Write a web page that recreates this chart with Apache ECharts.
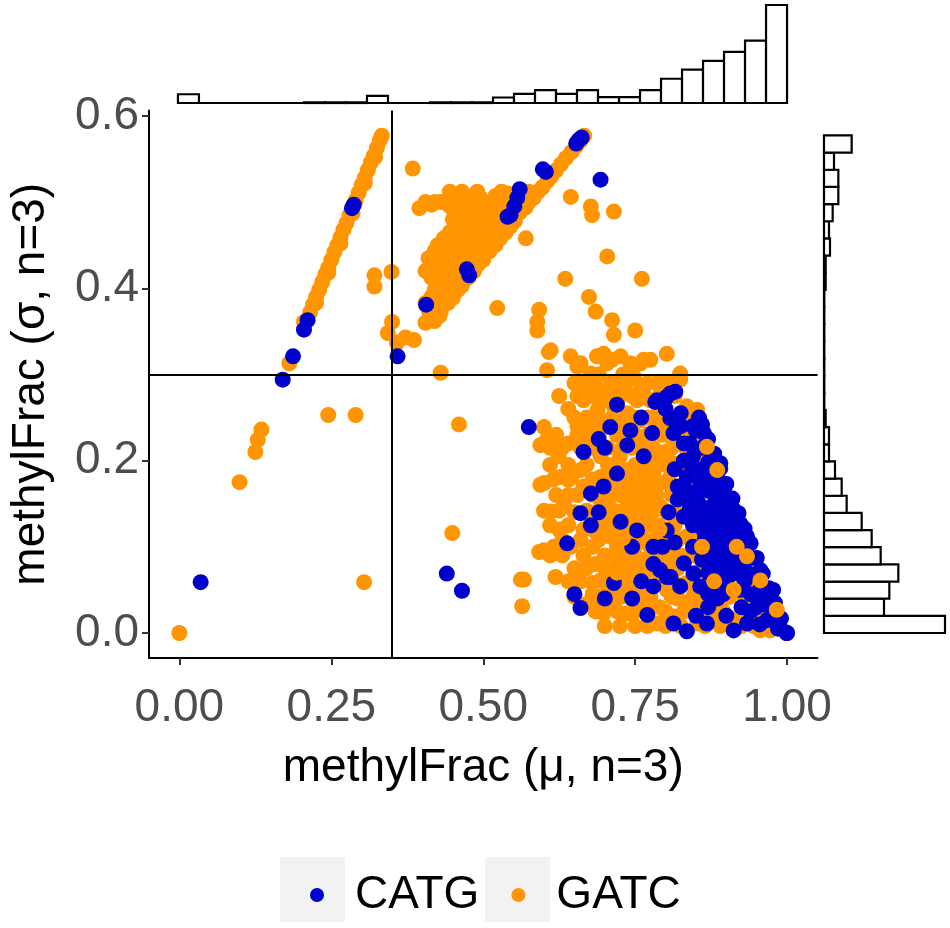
<!DOCTYPE html>
<html>
<head>
<meta charset="utf-8">
<script src="https://cdn.jsdelivr.net/npm/echarts@6/dist/echarts.min.js"></script>
<style>html,body{margin:0;padding:0;background:#fff;}#c{width:950px;height:928px;}</style>
</head>
<body>
<div id="c"></div>
<script>
// ---- data ----
var muTicks = [0, 0.25, 0.5, 0.75, 1];
var sigmaTicks = [0, 0.2, 0.4, 0.6];
var vLineMu = 0.35;
var hLineSigma = 0.3;

// marginal histogram counts (29 bins each)
var muHist = [27,0,0,0,0,0,2,2,2,22,0,0,2,2,2,17,28,40,28,40,18,18,40,75,103,130,158,193,303];
var sigmaHist = [363,180,196,223,170,143,113,68,53,33,15,15,5,1,1,1,1,1,1,1,5,5,18,15,26,43,43,30,83];
var muRange = [0, 1];
var sigmaRange = [0, 0.57735];

// GATC points [mu, sigma]
var gatcPoints = [
 [0.215,0.372],[0.220,0.381],[0.225,0.390],[0.230,0.398],[0.235,0.407],[0.240,0.416],[0.245,0.424],[0.250,0.433],[0.255,0.442],[0.260,0.450],[0.265,0.459],[0.270,0.468],[0.275,0.476],[0.280,0.485],[0.285,0.494],[0.290,0.502],[0.295,0.511],[0.300,0.520],[0.305,0.528],[0.310,0.537],[0.315,0.546],[0.320,0.554],[0.325,0.563],[0.330,0.572],[0.333,0.577],
 [0.225,0.383],[0.245,0.418],[0.265,0.452],[0.285,0.487],[0.305,0.522],[0.322,0.552],[0.181,0.313],[0.205,0.361],
 [0.384,0.539],[0.321,0.415],[0.321,0.402],[0.349,0.419],[0.245,0.253],[0.290,0.253],[0.135,0.236],[0.129,0.224],[0.125,0.210],[0.099,0.175],[0.000,0.000],[0.304,0.059],[0.430,0.302],[0.460,0.242],[0.449,0.116],[0.562,0.062],[0.567,0.062],[0.564,0.031],[0.594,0.218],[0.594,0.172],[0.592,0.094],
 [0.343,0.348],[0.358,0.337],[0.372,0.343],[0.386,0.340],[0.350,0.361],
 [0.405,0.360],[0.420,0.362],[0.410,0.375],[0.430,0.373],[0.415,0.390],[0.435,0.390],[0.450,0.389],[0.425,0.405],[0.445,0.405],[0.465,0.403],
 [0.405,0.420],[0.425,0.420],[0.445,0.420],[0.465,0.420],[0.485,0.420],[0.410,0.435],[0.430,0.435],[0.450,0.435],[0.470,0.435],[0.490,0.435],[0.500,0.433],
 [0.425,0.450],[0.445,0.450],[0.465,0.450],[0.485,0.450],[0.505,0.450],[0.520,0.450],[0.445,0.465],[0.465,0.465],[0.485,0.465],[0.505,0.465],[0.525,0.465],[0.537,0.465],
 [0.450,0.480],[0.470,0.480],[0.490,0.480],[0.510,0.480],[0.530,0.480],[0.552,0.478],
 [0.395,0.493],[0.415,0.497],[0.445,0.495],[0.465,0.495],[0.485,0.495],[0.510,0.495],[0.530,0.495],[0.550,0.495],[0.570,0.494],
 [0.430,0.500],[0.455,0.508],[0.475,0.505],[0.495,0.505],[0.520,0.507],[0.540,0.510],[0.560,0.508],[0.583,0.505],
 [0.412,0.368],[0.428,0.368],[0.405,0.383],[0.425,0.383],[0.442,0.383],[0.420,0.398],[0.440,0.398],[0.458,0.398],
 [0.415,0.412],[0.435,0.412],[0.455,0.412],[0.475,0.412],[0.415,0.428],[0.435,0.428],[0.455,0.428],[0.475,0.428],[0.492,0.428],
 [0.420,0.443],[0.440,0.443],[0.460,0.443],[0.480,0.443],[0.500,0.443],[0.510,0.443],[0.435,0.458],[0.455,0.458],[0.475,0.458],[0.495,0.458],[0.515,0.458],[0.528,0.458],
 [0.455,0.472],[0.475,0.472],[0.495,0.472],[0.515,0.472],[0.535,0.472],[0.545,0.472],[0.455,0.488],[0.475,0.488],[0.500,0.488],[0.520,0.488],[0.540,0.488],[0.560,0.488],
 [0.405,0.500],[0.420,0.500],[0.565,0.500],[0.575,0.500],[0.445,0.512],[0.465,0.512],[0.490,0.512],[0.530,0.512],[0.575,0.512],[0.590,0.512],
 [0.597,0.517],[0.605,0.524],[0.612,0.530],[0.620,0.537],[0.628,0.544],[0.636,0.551],[0.645,0.558],[0.653,0.565],[0.660,0.571],[0.666,0.577],
 [0.644,0.506],[0.677,0.495],[0.679,0.485],[0.715,0.489],[0.570,0.458],[0.704,0.437],[0.635,0.411],[0.761,0.411],[0.523,0.377],[0.592,0.375],[0.589,0.361],[0.589,0.351],[0.674,0.390],[0.685,0.373],[0.712,0.363],[0.715,0.346],[0.750,0.351],[0.611,0.328],[0.605,0.305],
 [0.644,0.321],[0.655,0.309],[0.687,0.321],[0.704,0.313],[0.726,0.321],[0.742,0.313],[0.764,0.317],[0.802,0.324],[0.824,0.301],[0.808,0.290],
 [0.608,0.326],[0.660,0.313],[0.698,0.324],[0.712,0.317],[0.759,0.313],[0.775,0.317],[0.677,0.301],[0.748,0.297],[0.824,0.294],
 [0.671,0.286],[0.693,0.282],[0.720,0.286],[0.753,0.270],[0.665,0.270],[0.688,0.259],[0.715,0.263],[0.737,0.255],[0.835,0.263],[0.852,0.259],
 [0.600,0.239],[0.605,0.224],[0.677,0.239],[0.674,0.224],[0.759,0.247],[0.786,0.235],[0.835,0.239],[0.857,0.224],
 [0.624,0.205],[0.627,0.181],[0.600,0.174],[0.660,0.189],[0.665,0.170],[0.693,0.205],[0.693,0.181],[0.737,0.189],[0.786,0.201],[0.813,0.197],[0.835,0.212],[0.857,0.201],[0.879,0.189],[0.791,0.174],[0.748,0.170],[0.720,0.166],[0.770,0.166],
 [0.611,0.141],[0.633,0.148],[0.600,0.096],[0.616,0.100],[0.644,0.100],[0.693,0.154],[0.682,0.119],[0.709,0.135],[0.709,0.112],[0.737,0.147],[0.759,0.150],[0.770,0.135],[0.791,0.147],[0.786,0.112],[0.813,0.135],[0.835,0.112],[0.857,0.100],[0.720,0.100],[0.753,0.104],
 [0.619,0.065],[0.693,0.061],[0.704,0.046],[0.742,0.081],[0.748,0.058],[0.775,0.073],[0.813,0.081],[0.835,0.058],[0.857,0.073],[0.879,0.089],[0.917,0.096],[0.934,0.085],[0.950,0.061],[0.901,0.050],[0.802,0.050],[0.759,0.042],[0.726,0.042],
 [0.671,0.034],[0.698,0.023],[0.737,0.023],[0.786,0.011],[0.813,0.019],[0.852,0.011],[0.879,0.023],[0.912,0.011],[0.945,0.019],[0.972,0.003],[0.977,0.027],[0.956,0.003],
 [0.705,0.195],[0.725,0.205],[0.745,0.215],[0.765,0.225],[0.705,0.150],[0.725,0.160],[0.745,0.180],[0.765,0.190],[0.780,0.185],[0.700,0.130],[0.725,0.140],[0.745,0.130],[0.760,0.120],[0.775,0.100],
 [0.700,0.090],[0.735,0.090],[0.765,0.085],[0.790,0.090],[0.685,0.080],[0.715,0.075],[0.745,0.070],[0.680,0.100],[0.665,0.120],[0.650,0.140],[0.655,0.160],[0.645,0.180],[0.640,0.220],[0.655,0.240],
 [0.700,0.240],[0.725,0.245],[0.700,0.270],[0.730,0.300],[0.690,0.300],[0.650,0.290],[0.640,0.260],[0.625,0.275],[0.625,0.120],[0.640,0.060],[0.660,0.060],[0.680,0.045],[0.715,0.030],[0.755,0.030],
 [0.790,0.030],[0.770,0.055],[0.820,0.040],[0.840,0.030],[0.860,0.040],[0.890,0.030],[0.900,0.075],[0.880,0.120],[0.865,0.145],[0.840,0.180],[0.810,0.170],[0.825,0.150],[0.800,0.210],[0.780,0.250],
 [0.805,0.245],[0.775,0.270],[0.795,0.290],[0.760,0.285],
 [0.660,0.290],[0.680,0.290],[0.710,0.290],[0.735,0.290],[0.770,0.290],[0.785,0.290],
 [0.655,0.275],[0.680,0.275],[0.705,0.275],[0.725,0.275],[0.745,0.275],[0.765,0.275],[0.790,0.275],[0.815,0.275],
 [0.650,0.250],[0.670,0.250],[0.690,0.250],[0.712,0.250],[0.748,0.250],[0.770,0.250],[0.795,0.250],[0.820,0.250],[0.840,0.250],
 [0.620,0.230],[0.655,0.230],[0.690,0.230],[0.720,0.230],[0.750,0.230],[0.770,0.230],[0.795,0.230],[0.825,0.230],[0.845,0.230],
 [0.610,0.215],[0.630,0.215],[0.660,0.215],[0.680,0.215],[0.705,0.215],[0.730,0.215],[0.755,0.215],[0.780,0.215],[0.810,0.215],
 [0.610,0.195],[0.640,0.195],[0.670,0.195],[0.715,0.195],[0.750,0.195],[0.775,0.195],[0.800,0.195],[0.825,0.195],
 [0.615,0.178],[0.640,0.178],[0.680,0.178],[0.705,0.178],[0.730,0.178],[0.760,0.178],[0.780,0.178],[0.805,0.178],
 [0.620,0.160],[0.640,0.160],[0.680,0.160],[0.710,0.160],[0.735,0.160],[0.760,0.160],[0.785,0.160],[0.810,0.160],
 [0.600,0.142],[0.625,0.142],[0.670,0.142],[0.690,0.142],[0.715,0.142],[0.750,0.142],[0.780,0.142],[0.800,0.142],
 [0.610,0.125],[0.640,0.125],[0.695,0.125],[0.720,0.125],[0.740,0.125],[0.770,0.125],[0.790,0.125],[0.815,0.125],
 [0.630,0.108],[0.660,0.108],[0.690,0.108],[0.735,0.108],[0.765,0.108],[0.800,0.108],[0.820,0.108],[0.845,0.108],
 [0.610,0.090],[0.630,0.090],[0.665,0.090],[0.720,0.090],[0.750,0.090],[0.780,0.090],[0.805,0.090],[0.825,0.090],[0.845,0.090],[0.870,0.090],[0.890,0.090],
 [0.650,0.075],[0.670,0.075],[0.700,0.075],[0.730,0.075],[0.760,0.075],[0.790,0.075],[0.820,0.075],[0.880,0.075],
 [0.680,0.058],[0.705,0.058],[0.735,0.058],[0.760,0.058],[0.790,0.058],[0.815,0.058],[0.870,0.058],[0.895,0.058],
 [0.650,0.042],[0.690,0.042],[0.710,0.042],[0.740,0.042],[0.775,0.042],[0.810,0.042],[0.845,0.042],[0.875,0.042],[0.905,0.042],[0.930,0.042],
 [0.685,0.025],[0.720,0.025],[0.750,0.025],[0.770,0.025],[0.800,0.025],[0.830,0.025],[0.860,0.025],[0.895,0.025],[0.925,0.025],[0.960,0.025],
 [0.700,0.008],[0.725,0.008],[0.750,0.008],[0.770,0.008],[0.800,0.008],[0.825,0.008],[0.865,0.008],[0.890,0.008],[0.925,0.008],[0.945,0.008]
];

// CATG points [mu, sigma]
var catgPoints = [
 [0.170,0.294],[0.187,0.321],[0.205,0.352],[0.211,0.363],[0.284,0.493],[0.287,0.497],[0.035,0.059],[0.359,0.321],[0.575,0.239],[0.440,0.069],[0.465,0.049],
 [0.406,0.381],[0.477,0.415],[0.473,0.422],[0.545,0.485],[0.551,0.495],[0.556,0.505],[0.560,0.515],[0.540,0.483],[0.603,0.535],[0.598,0.538],[0.657,0.572],[0.662,0.575],[0.653,0.568],[0.693,0.526],
 [0.783,0.268],[0.802,0.274],[0.816,0.280],[0.709,0.239],[0.742,0.235],[0.778,0.232],[0.813,0.232],[0.808,0.249],[0.863,0.232],[0.737,0.218],[0.764,0.205],
 [0.720,0.185],[0.835,0.181],[0.857,0.174],[0.885,0.181],[0.896,0.166],[0.698,0.170],[0.677,0.162],[0.890,0.197],
 [0.660,0.139],[0.677,0.125],[0.638,0.104],[0.726,0.129],[0.753,0.119],[0.780,0.100],[0.802,0.119],[0.835,0.158],[0.846,0.143],[0.868,0.143],[0.890,0.150],[0.912,0.143],[0.923,0.127],[0.863,0.119],[0.885,0.112],[0.906,0.100],[0.934,0.112],
 [0.715,0.058],[0.780,0.054],[0.802,0.065],[0.830,0.081],[0.857,0.054],[0.879,0.054],[0.912,0.069],[0.923,0.050],[0.956,0.073],[0.961,0.042],[0.977,0.050],
 [0.660,0.029],[0.770,0.021],[0.813,0.011],[0.835,0.002],[0.868,0.011],[0.912,0.003],[0.934,0.011],[0.967,0.015],[0.999,0.000],[0.988,0.007],
 [0.855,0.250],[0.860,0.242],[0.870,0.225],[0.880,0.208],[0.890,0.191],[0.900,0.173],[0.910,0.156],[0.920,0.139],[0.930,0.121],[0.940,0.104],[0.950,0.087],[0.960,0.069],[0.970,0.052],[0.980,0.035],[0.990,0.017],[1.000,0.000],
 [0.850,0.235],[0.860,0.215],[0.870,0.198],[0.878,0.178],[0.890,0.165],[0.898,0.148],[0.905,0.130],[0.915,0.115],[0.925,0.098],[0.935,0.085],[0.945,0.068],[0.955,0.050],[0.965,0.033],[0.975,0.018],[0.985,0.005],
 [0.950,0.030],[0.940,0.045],[0.930,0.060],[0.925,0.080],[0.915,0.090],[0.900,0.120],[0.895,0.135],[0.880,0.150],[0.870,0.165],[0.860,0.190],[0.845,0.205],[0.830,0.220],
 [0.820,0.170],[0.835,0.165],[0.845,0.125],[0.830,0.135],[0.850,0.160],[0.791,0.073],[0.808,0.065],[0.824,0.054],[0.846,0.069],[0.786,0.270],[0.808,0.278],
 [0.815,0.190],[0.830,0.200],[0.845,0.190],[0.820,0.155],[0.840,0.145],[0.855,0.130],[0.870,0.130],[0.875,0.100],[0.860,0.085],[0.845,0.100],[0.890,0.085],[0.900,0.060],[0.885,0.040],
 [0.870,0.030],[0.850,0.020],[0.900,0.020],[0.940,0.025],[0.955,0.010],[0.925,0.030],[0.795,0.100],[0.805,0.140],[0.815,0.105],[0.760,0.060],[0.780,0.080],[0.745,0.040],[0.700,0.215],
 [0.690,0.225],[0.665,0.210],[0.720,0.265],[0.800,0.260],[0.825,0.255],[0.760,0.250],[0.745,0.100],[0.870,0.070],[0.890,0.110],[0.905,0.080],[0.690,0.140],[0.650,0.045],[0.700,0.040],
 [0.865,0.110],[0.880,0.095],[0.895,0.095],[0.905,0.110],[0.890,0.070],[0.875,0.080],[0.915,0.070],[0.825,0.240],[0.845,0.240],[0.840,0.220],[0.865,0.185],[0.875,0.140],
 [0.855,0.150],[0.915,0.125],[0.905,0.150],[0.885,0.125],[0.870,0.045],[0.895,0.045],[0.930,0.070]
];

// GATC points drawn over CATG
var gatcTopPoints = [
 [0.917,0.100],[0.934,0.089],[0.956,0.061],[0.983,0.027],[0.885,0.189],[0.868,0.216],[0.912,0.050],[0.760,0.140],[0.740,0.160],[0.790,0.120],
 [0.730,0.110],[0.770,0.150],[0.720,0.070],[0.860,0.100],[0.880,0.060]
];

// ---- chart ----
var FONT = "'Liberation Sans', Arial, sans-serif";
var ORANGE = '#FF9500', BLUE = '#0000CD';
var xMin = -0.05, xMax = 1.05;
var yMin = -0.0289, yMax = 0.6062;
var G = {left: 147.5, width: 670, top: 110.6, height: 547.3};
var DOT = 16;

function binData(counts, range) {
  var w = (range[1] - range[0]) / counts.length;
  return counts.map(function (c, i) { return [range[0] + i * w, range[0] + (i + 1) * w, c]; });
}
var barStyle = {fill: '#fff', stroke: '#000', lineWidth: 2.2};

var chart = echarts.init(document.getElementById('c'), null, {renderer: 'canvas'});
chart.setOption({
  animation: false,
  backgroundColor: '#fff',
  textStyle: {fontFamily: FONT},
  grid: [
    {left: G.left, width: G.width, top: G.top, height: G.height},
    {left: G.left, width: G.width, top: 5, height: 98},
    {left: 824, width: 121, top: G.top, height: G.height}
  ],
  xAxis: [
    {type: 'value', gridIndex: 0, min: xMin, max: xMax,
     name: 'methylFrac (μ, n=3)', nameLocation: 'middle', nameGap: 87,
     nameTextStyle: {fontSize: 46, color: '#000', fontFamily: FONT},
     splitLine: {show: false},
     axisLine: {onZero: false, lineStyle: {color: '#000', width: 2}},
     axisTick: {length: 7, lineStyle: {color: '#333', width: 2}, customValues: muTicks},
     axisLabel: {fontSize: 46, lineHeight: 46, color: '#4D4D4D', margin: 27, fontFamily: FONT, customValues: muTicks,
       formatter: function (v) { return v.toFixed(2); }}},
    {type: 'value', gridIndex: 1, min: xMin, max: xMax, show: false},
    {type: 'value', gridIndex: 2, min: 0, max: 363, show: false}
  ],
  yAxis: [
    {type: 'value', gridIndex: 0, min: yMin, max: yMax,
     name: 'methylFrac (σ, n=3)', nameLocation: 'middle', nameGap: 95, nameRotate: 90,
     nameTextStyle: {fontSize: 46, color: '#000', fontFamily: FONT},
     splitLine: {show: false},
     axisLine: {onZero: false, lineStyle: {color: '#000', width: 2}},
     axisTick: {length: 7, lineStyle: {color: '#333', width: 2}, customValues: sigmaTicks},
     axisLabel: {fontSize: 46, color: '#4D4D4D', margin: 10, fontFamily: FONT, customValues: sigmaTicks,
       formatter: function (v) { return v.toFixed(1); }}},
    {type: 'value', gridIndex: 1, min: 0, max: 303, show: false},
    {type: 'value', gridIndex: 2, min: yMin, max: yMax, show: false}
  ],
  legend: {
    data: ['CATG', 'GATC'],
    left: 305, top: 867, orient: 'horizontal',
    icon: 'circle', itemWidth: 14, itemHeight: 14, itemGap: 32,
    textStyle: {fontSize: 46, color: '#000', fontFamily: FONT, padding: [0, 0, 0, 26]}
  },
  graphic: [
    {type: 'rect', left: 280, top: 857, shape: {width: 65, height: 65}, style: {fill: '#F2F2F2'}, z: 0},
    {type: 'rect', left: 485, top: 857, shape: {width: 65, height: 65}, style: {fill: '#F2F2F2'}, z: 0}
  ],
  series: [
    {name: 'GATC', type: 'scatter', xAxisIndex: 0, yAxisIndex: 0, data: gatcPoints,
     symbol: 'circle', symbolSize: DOT, itemStyle: {color: ORANGE, opacity: 1}, z: 2},
    {name: 'CATG', type: 'scatter', xAxisIndex: 0, yAxisIndex: 0, data: catgPoints,
     symbol: 'circle', symbolSize: DOT, itemStyle: {color: BLUE, opacity: 1}, z: 3},
    {name: 'GATC', type: 'scatter', xAxisIndex: 0, yAxisIndex: 0, data: gatcTopPoints,
     symbol: 'circle', symbolSize: DOT, itemStyle: {color: ORANGE, opacity: 1}, z: 4},
    {type: 'scatter', xAxisIndex: 0, yAxisIndex: 0, data: [], z: 5, silent: true,
     markLine: {silent: true, symbol: ['none', 'none'], label: {show: false},
       lineStyle: {color: '#000', width: 2, type: 'solid'},
       data: [{xAxis: vLineMu}, {yAxis: hLineSigma}]}},
    {type: 'custom', xAxisIndex: 1, yAxisIndex: 1, data: binData(muHist, muRange),
     encode: {x: [0, 1], y: 2},
     renderItem: function (params, api) {
       var p0 = api.coord([api.value(0), api.value(2)]);
       var p1 = api.coord([api.value(1), 0]);
       return {type: 'rect', shape: {x: p0[0], y: p0[1], width: p1[0] - p0[0], height: p1[1] - p0[1]}, style: barStyle};
     }},
    {type: 'custom', xAxisIndex: 2, yAxisIndex: 2, data: binData(sigmaHist, sigmaRange),
     encode: {x: 2, y: [0, 1]},
     renderItem: function (params, api) {
       var p0 = api.coord([0, api.value(1)]);
       var p1 = api.coord([api.value(2), api.value(0)]);
       return {type: 'rect', shape: {x: p0[0], y: p0[1], width: p1[0] - p0[0], height: p1[1] - p0[1]}, style: barStyle};
     }}
  ]
});
</script>
</body>
</html>
